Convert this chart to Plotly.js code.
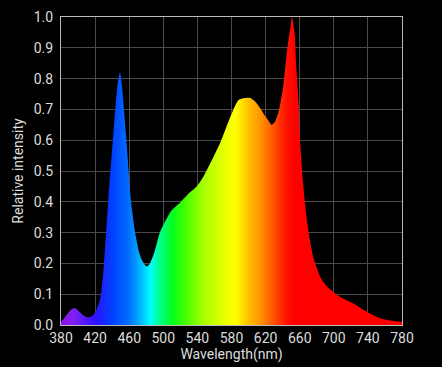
<!DOCTYPE html>
<html>
<head>
<meta charset="utf-8">
<script src="https://cdn.plot.ly/plotly-3.0.1.min.js"></script>
<style>html,body{margin:0;padding:0;background:#000;}#chart{width:442px;height:367px;}</style>
</head>
<body>
<div id="chart"></div>
<script>
const wavelength = [380, 386, 391, 396, 401, 406, 411, 416, 420, 423, 425.7, 429.6, 435.5, 441.4, 446.5, 449.2, 451.2, 456.2, 462, 467, 471.9, 476, 480.5, 484.4, 490, 496, 502, 510, 519.6, 531, 539, 547, 558, 566.5, 574, 582, 588, 594, 602, 608, 614, 619, 623, 627, 631, 635, 638, 641, 644, 646, 649, 651, 654, 656, 659, 660, 664, 668, 672, 676, 684, 692, 707, 723, 739, 754, 770, 780];
const intensity = [0.01, 0.03, 0.048, 0.055, 0.045, 0.032, 0.025, 0.028, 0.04, 0.06, 0.081, 0.17, 0.406, 0.62, 0.785, 0.82, 0.785, 0.62, 0.406, 0.298, 0.233, 0.205, 0.19, 0.20, 0.24, 0.30, 0.335, 0.373, 0.397, 0.43, 0.449, 0.481, 0.541, 0.59, 0.643, 0.698, 0.73, 0.736, 0.737, 0.725, 0.703, 0.68, 0.665, 0.65, 0.66, 0.69, 0.73, 0.78, 0.86, 0.91, 0.963, 1.0, 0.947, 0.84, 0.71, 0.62, 0.46, 0.35, 0.276, 0.22, 0.157, 0.125, 0.092, 0.07, 0.043, 0.022, 0.013, 0.01];
const xTicks = [380, 420, 460, 500, 540, 580, 620, 660, 700, 740, 780];
const yTicks = [0, 0.1, 0.2, 0.3, 0.4, 0.5, 0.6, 0.7, 0.8, 0.9, 1.0];
const spectrumStops = [380, 395, 420, 440, 460, 475, 485, 495, 510, 525, 545, 575, 585, 600, 615, 630, 645, 655, 780];
const spectrumColors = ['#9010e0', '#8020f0', '#3010ff', '#0040ff', '#0070ff', '#00c0ff', '#00ffff', '#00ff90', '#00ff20', '#40ff00', '#a0ff00', '#f0ff00', '#ffff00', '#ffc000', '#ff9000', '#ff5000', '#ff1000', '#ff0000', '#ff0000'];

const lo = spectrumStops[0], hi = spectrumStops[spectrumStops.length - 1];
const colorscale = spectrumStops.map((w, i) => [(w - lo) / (hi - lo), spectrumColors[i]]);

const trace = {
  x: wavelength,
  y: intensity,
  type: 'scatter',
  mode: 'lines',
  line: {width: 0, shape: 'spline', smoothing: 0.6, color: '#000'},
  fill: 'tozeroy',
  fillgradient: {type: 'horizontal', start: lo, stop: hi, colorscale: colorscale},
  hoverinfo: 'skip'
};

const fontFam = 'Roboto, "Noto Sans", sans-serif';
const layout = {
  width: 442, height: 367,
  paper_bgcolor: '#000', plot_bgcolor: '#000',
  margin: {l: 61, r: 40, t: 17, b: 42},
  showlegend: false,
  xaxis: {
    range: [380, 780], tickvals: xTicks, ticktext: xTicks.map(String),
    showgrid: true, gridcolor: '#4a4a4a', gridwidth: 1,
    showline: true, linecolor: '#bbbbbb', linewidth: 1, mirror: true,
    zeroline: false, ticks: '', ticklen: 0,
    tickfont: {family: fontFam, size: 14, color: '#dddddd'},
    title: {text: 'Wavelength(nm)', font: {family: fontFam, size: 14, color: '#dddddd'}, standoff: 2}
  },
  yaxis: {
    range: [0, 1.0], tickvals: yTicks, ticktext: yTicks.map(v => v.toFixed(1)),
    showgrid: true, gridcolor: '#4a4a4a', gridwidth: 1,
    showline: true, linecolor: '#bbbbbb', linewidth: 1, mirror: true,
    zeroline: false, ticks: 'outside', ticklen: 4, tickcolor: '#000',
    tickfont: {family: fontFam, size: 14, color: '#dddddd'},
    title: {text: 'Relative intensity', font: {family: fontFam, size: 14, color: '#dddddd'}, standoff: 6}
  }
};

Plotly.newPlot('chart', [trace], layout, {displayModeBar: false, staticPlot: true});
</script>
</body>
</html>
